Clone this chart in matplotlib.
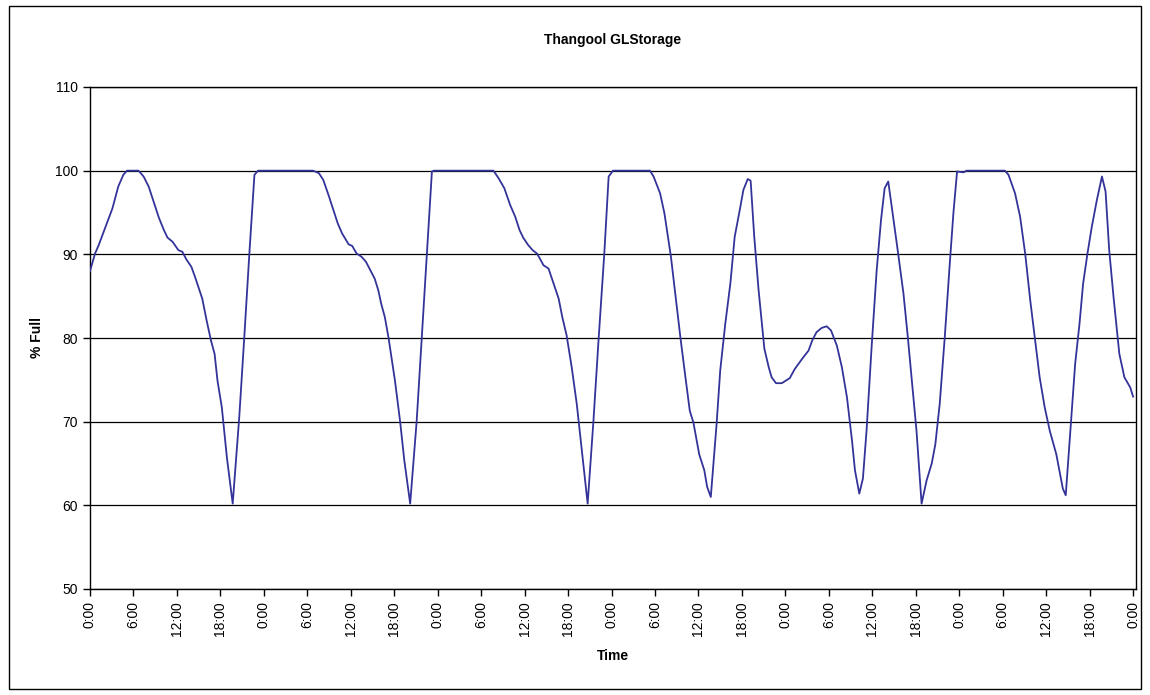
import matplotlib
matplotlib.use("Agg")
import matplotlib.pyplot as plt
from matplotlib.patches import Rectangle

plt.rcParams['font.family'] = ['Liberation Sans', 'DejaVu Sans']

title = "Thangool GLStorage"
x_label = "Time"
y_label = "% Full"

# Hours since start and storage % full
hours = [
    0.0, 0.7, 1.2, 3.1, 3.9, 4.6, 5.1, 6.7, 7.4, 8.1, 9.0, 9.5, 10.2, 10.7, 11.4,
    12.2, 12.75, 13.3, 14.0, 14.5, 15.5, 16.1, 16.7, 17.2, 17.6, 18.2, 18.9, 19.7,
    20.6, 21.3, 22.0, 22.7, 23.2,
    30.8, 31.6, 32.2, 33.0, 33.6, 34.2, 34.8, 35.7, 36.2, 36.8, 37.5, 38.1, 38.7,
    39.3, 39.8, 40.2, 40.7, 41.2, 42.1, 42.8, 43.4, 44.2, 45.1, 45.8, 46.5, 47.2, 47.5,
    55.7, 56.4, 57.2, 58.0, 58.7, 59.3, 59.8, 60.5, 61.1, 61.7, 62.1, 62.6, 63.3,
    64.0, 64.7, 65.2, 65.8, 66.5, 67.2, 67.9, 68.7, 69.5, 70.2, 71.0, 71.6, 72.2,
    77.3, 77.8, 78.7, 79.3, 80.2, 80.8, 81.5, 82.2, 82.8, 83.3, 84.1, 84.8, 85.2,
    85.7, 86.5, 87.0, 87.7, 88.4, 89.0, 89.7, 90.2, 90.8, 91.2, 91.7, 92.3, 93.1,
    93.7, 94.1, 94.7, 95.5, 96.6, 97.3, 98.3, 99.2, 99.7, 100.3, 101.0, 101.7,
    102.3, 103.1, 103.8, 104.5, 105.2, 105.6, 106.2, 106.7, 107.2, 107.9, 108.6,
    109.2, 109.7, 110.2, 110.8, 111.5, 112.3, 112.9, 113.5, 114.1, 114.8, 115.5,
    116.2, 116.7, 117.3, 118.0, 118.7, 119.2, 119.7, 120.6, 121.0,
    126.3, 126.8, 127.7, 128.4, 129.1, 129.8, 130.6, 131.1, 131.8, 132.5, 133.4,
    134.3, 134.7, 135.3, 136.0, 136.6, 137.1, 137.7, 138.3, 139.0, 139.7, 140.2,
    140.7, 141.3, 142.1, 142.8, 143.6, 144.0,
]
pct_full = [
    88.0, 90.1, 91.1, 95.5, 98.1, 99.5, 100, 100, 99.3, 98.1, 95.7, 94.4, 92.9, 92.0, 91.5,
    90.5, 90.3, 89.4, 88.5, 87.3, 84.7, 82.1, 79.7, 78.1, 74.9, 71.7, 65.7, 60.2,
    70.5, 80.1, 90.1, 99.5, 100,
    100, 99.7, 98.9, 96.9, 95.3, 93.7, 92.5, 91.2, 91.0, 90.1, 89.7, 89.1, 88.1,
    87.1, 85.7, 84.1, 82.5, 80.1, 74.9, 70.1, 65.3, 60.2, 70.1, 80.1, 90.1, 99.9, 100,
    100, 99.1, 97.9, 95.9, 94.5, 92.9, 92.0, 91.1, 90.5, 90.1, 89.5, 88.7, 88.3,
    86.5, 84.7, 82.5, 80.3, 76.5, 72.1, 66.5, 60.2, 70.1, 79.7, 90.1, 99.3, 100,
    100, 99.3, 97.3, 94.9, 89.7, 85.3, 80.1, 75.3, 71.3, 69.9, 66.1, 64.2, 62.2,
    61.0, 69.7, 76.1, 81.7, 86.5, 92.1, 95.3, 97.7, 99.0, 98.8, 92.1, 85.7, 78.7,
    76.5, 75.3, 74.6, 74.6, 75.2, 76.3, 77.5, 78.5, 79.7, 80.7, 81.2, 81.4,
    80.9, 79.1, 76.5, 72.9, 67.7, 64.2, 61.4, 63.2, 68.9, 78.9, 88.1,
    94.1, 97.9, 98.7, 94.9, 90.5, 85.3, 80.1, 74.5, 68.9, 60.2, 63.0,
    65.0, 67.3, 72.1, 80.1, 89.0, 95.0, 99.9, 99.8, 100,
    100, 99.5, 97.3, 94.5, 90.1, 84.5, 78.9, 75.3, 71.7, 68.9, 66.1,
    62.0, 61.2, 68.5, 76.9, 81.7, 86.5, 90.1, 93.3, 96.5, 99.3, 97.5,
    90.5, 84.9, 78.1, 75.3, 74.1, 73.0,
]

tick_hours = list(range(0, 145, 6))
tick_labels = ["0:00", "6:00", "12:00", "18:00"] * 6 + ["0:00"]
y_ticks = [50, 60, 70, 80, 90, 100, 110]

fig = plt.figure(figsize=(11.5, 6.95), dpi=100)
fig.patch.set_facecolor("white")
fig.patches.append(Rectangle((9 / 1150, 1 - 689 / 695), (1141 - 9) / 1150, (689 - 6) / 695,
                             transform=fig.transFigure, fill=False, edgecolor="black",
                             linewidth=1.0))

ax = fig.add_axes([90 / 1150, 1 - 589 / 695, (1136 - 90) / 1150, (589 - 87) / 695])
ax.plot(hours, pct_full, color="#333399", linewidth=1.3, zorder=3)

ax.set_xlim(0, 144.4)
ax.set_ylim(50, 110)
ax.set_yticks(y_ticks)
ax.set_xticks(tick_hours)
ax.set_xticklabels(tick_labels, rotation=90, fontsize=10)
ax.tick_params(axis="y", labelsize=10, direction="out", length=5, width=1)
ax.tick_params(axis="x", direction="out", length=5, width=1, pad=4)
ax.yaxis.grid(True, color="black", linewidth=0.9)
ax.set_axisbelow(True)
for s in ax.spines.values():
    s.set_color("black")
    s.set_linewidth(1.0)

ax.set_title(title, fontsize=10, fontweight="bold", pad=31)
ax.set_xlabel(x_label, fontsize=10, fontweight="bold", labelpad=9)
ax.set_ylabel(y_label, fontsize=10, fontweight="bold", labelpad=8)

fig.savefig("out.png", dpi=100)
